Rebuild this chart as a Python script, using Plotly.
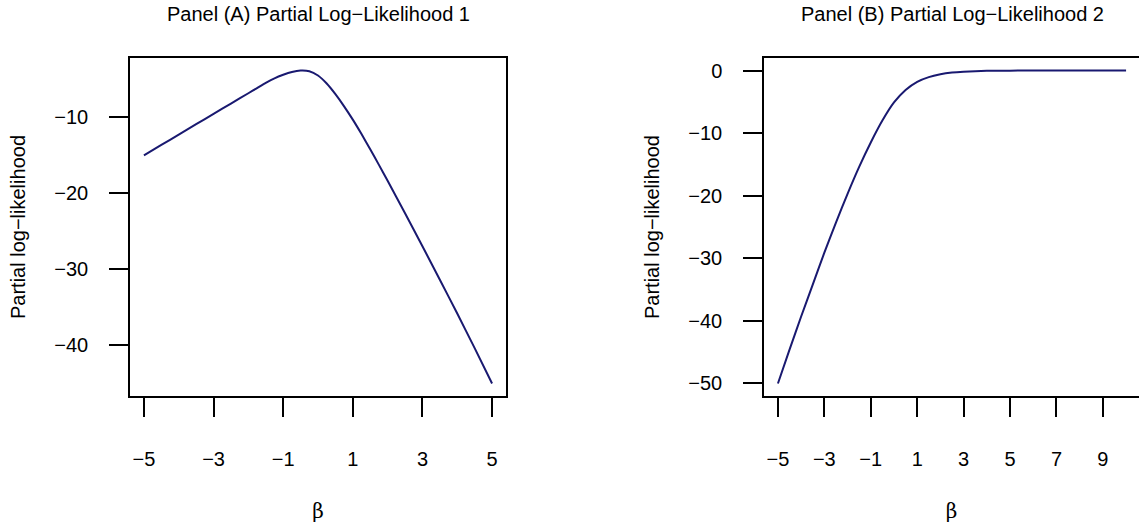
import plotly.graph_objects as go

# Panel A data
beta_a = [-5, -4.5, -4, -3.5, -3, -2.5, -2, -1.75, -1.5, -1.25, -1, -0.75, -0.5,
          -0.25, 0, 0.25, 0.5, 0.75, 1, 1.25, 1.5, 1.75, 2, 2.5, 3, 3.5, 4, 4.5, 5]
pll_a = [-15.0, -13.63, -12.27, -10.9, -9.54, -8.18, -6.83, -6.15, -5.47, -4.87,
         -4.4, -4.03, -3.84, -3.93, -4.5, -5.55, -6.95, -8.55, -10.3, -12.2, -14.2,
         -16.25, -18.35, -22.6, -26.95, -31.35, -35.8, -40.35, -45.0]

# Panel B data
beta_b = [-5, -4.5, -4, -3.5, -3, -2.5, -2, -1.5, -1, -0.5, 0, 0.5, 1, 1.5, 2,
          2.5, 3, 3.5, 4, 5, 6, 7, 8, 9, 10]
pll_b = [-50, -44.6, -39.3, -34.2, -29.1, -24.3, -19.7, -15.4, -11.5, -8.0, -5.1,
         -3.1, -1.8, -1.05, -0.6, -0.33, -0.18, -0.1, -0.05, -0.02, -0.01, 0, 0, 0, 0]

xticks_a = [-5, -3, -1, 1, 3, 5]
yticks_a = [-40, -30, -20, -10]
xticks_b = [-5, -3, -1, 1, 3, 5, 7, 9]
yticks_b = [-50, -40, -30, -20, -10, 0]

title_a = "Panel (A) Partial Log\u2212Likelihood 1"
title_b = "Panel (B) Partial Log\u2212Likelihood 2"
ylab = "Partial log\u2212likelihood"
xlab = "\u03b2"

W, H = 1139, 527
LINE = "#191970"
FONT = "Liberation Sans"
FS = 20


def pad(lo, hi):
    d = (hi - lo) * 0.04
    return [lo - d, hi + d]


fig = go.Figure()
fig.add_trace(go.Scatter(x=beta_a, y=pll_a, mode="lines", xaxis="x", yaxis="y",
                         line=dict(color=LINE, width=2, shape="spline", smoothing=0.5),
                         showlegend=False, hoverinfo="skip"))
fig.add_trace(go.Scatter(x=beta_b, y=pll_b, mode="lines", xaxis="x2", yaxis="y2",
                         line=dict(color=LINE, width=2, shape="spline", smoothing=0.5),
                         showlegend=False, hoverinfo="skip"))

ydom = [(H - 396) / H, (H - 58) / H]
common = dict(showgrid=False, zeroline=False, showline=True, linecolor="black",
              linewidth=1.5, ticks="outside", ticklen=19, tickwidth=1.5,
              tickcolor="black", tickfont=dict(family=FONT, size=FS, color="black"),
              automargin=False, fixedrange=True)

xr_b = pad(min(beta_b), max(beta_b))
# right panel frame extends past the page edge; clip range at the page edge
px_per_unit_b = (1140 - 764) / (xr_b[1] - xr_b[0])
xr_b_vis = [xr_b[0], xr_b[0] + (W - 764) / px_per_unit_b]

fig.update_layout(
    width=W, height=H, autosize=False,
    margin=dict(l=0, r=0, t=0, b=0),
    paper_bgcolor="white", plot_bgcolor="white",
    font=dict(family=FONT, size=FS, color="black"),
    xaxis=dict(domain=[130 / W, 506 / W], range=pad(min(beta_a), max(beta_a)),
               tickvals=xticks_a, anchor="y", mirror=True, ticklabelstandoff=25,
               title=dict(text=xlab, font=dict(family="DejaVu Serif", size=FS), standoff=35),
               **common),
    yaxis=dict(domain=ydom, range=pad(min(pll_a), max(pll_a)), tickvals=yticks_a,
               anchor="x", mirror=True, ticklabelstandoff=17,
               title=dict(text=ylab, font=dict(family=FONT, size=FS), standoff=23),
               **common),
    xaxis2=dict(domain=[764 / W, 1.0], range=xr_b_vis, tickvals=xticks_b,
                anchor="y2", mirror=True, ticklabelstandoff=25,
                title=dict(text=xlab, font=dict(family="DejaVu Serif", size=FS), standoff=35),
                **common),
    yaxis2=dict(domain=ydom, range=pad(min(pll_b), max(pll_b)), tickvals=yticks_b,
                anchor="x2", mirror=False, ticklabelstandoff=17,
                title=dict(text=ylab, font=dict(family=FONT, size=FS), standoff=23),
                **common),
    annotations=[
        dict(text=title_a, x=(130 + 506) / 2 / W, y=1 - 14 / H, xref="paper", yref="paper",
             xanchor="center", yanchor="middle", showarrow=False,
             font=dict(family=FONT, size=FS, color="black")),
        dict(text=title_b, x=(764 + 1140) / 2 / W, y=1 - 14 / H, xref="paper", yref="paper",
             xanchor="center", yanchor="middle", showarrow=False,
             font=dict(family=FONT, size=FS, color="black")),
    ],
)

fig.write_html("out.html")
